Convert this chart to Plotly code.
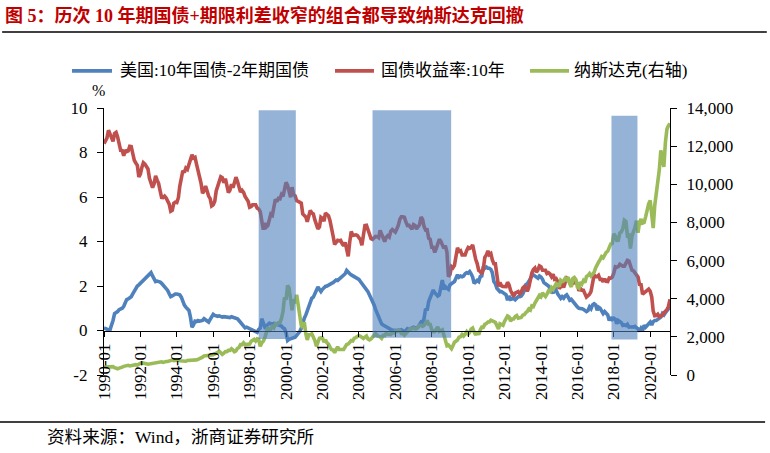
import pandas as pd
import plotly.graph_objects as go

# monthly observations, 1990-01 .. 2021-02
start_month = "1990-01-01"

spread_10y_2y = [
    0.12, 0.08, 0.05, 0.03, 0.03, 0.20, 0.45, 0.76, 0.80, 0.85, 0.94, 0.98,  # 1990
    1.00, 1.09, 1.20, 1.39, 1.42, 1.48, 1.52, 1.65, 1.80, 1.94, 2.00, 2.05,  # 1991
    2.12, 2.15, 2.20, 2.27, 2.35, 2.45, 2.52, 2.60, 2.45, 2.30, 2.20, 2.22,  # 1992
    2.20, 2.18, 2.12, 2.05, 1.97, 1.90, 1.80, 1.65, 1.52, 1.55, 1.60, 1.64,  # 1993
    1.64, 1.62, 1.60, 1.50, 1.30, 1.14, 1.05, 0.98, 0.90, 0.60, 0.15, 0.25,  # 1994
    0.42, 0.40, 0.45, 0.42, 0.45, 0.45, 0.53, 0.48, 0.40, 0.38, 0.50, 0.65,  # 1995
    0.73, 0.68, 0.64, 0.64, 0.66, 0.62, 0.60, 0.62, 0.60, 0.60, 0.60, 0.58,  # 1996
    0.62, 0.60, 0.58, 0.55, 0.53, 0.45, 0.38, 0.30, 0.20, 0.12, 0.15, 0.12,  # 1997
    0.10, 0.08, 0.05, 0.02, -0.05, -0.08, 0.05, 0.10, 0.53, 0.30, 0.15, 0.20,  # 1998
    0.30, 0.33, 0.30, 0.28, 0.32, 0.30, 0.30, 0.28, 0.25, 0.20, 0.12, 0.08,  # 1999
    -0.10, -0.45, -0.40, -0.38, -0.36, -0.33, -0.30, -0.22, -0.15, -0.05, 0.10, 0.38,  # 2000
    0.55, 0.70, 0.90, 1.10, 1.30, 1.45, 1.50, 1.65, 1.85, 1.95, 1.85, 1.75,  # 2001
    1.85, 1.95, 1.98, 2.00, 2.05, 2.10, 2.12, 2.15, 2.20, 2.27, 2.25, 2.30,  # 2002
    2.35, 2.42, 2.45, 2.55, 2.70, 2.60, 2.55, 2.50, 2.45, 2.40, 2.39, 2.35,  # 2003
    2.30, 2.20, 2.12, 2.05, 1.95, 1.85, 1.74, 1.60, 1.45, 1.36, 1.15, 0.95,  # 2004
    0.76, 0.60, 0.45, 0.30, 0.25, 0.20, 0.15, 0.12, 0.10, 0.05, 0.02, 0.00,  # 2005
    -0.02, 0.00, 0.02, 0.00, 0.03, 0.00, -0.05, 0.00, 0.08, 0.05, 0.08, 0.10,  # 2006
    0.15, 0.12, 0.10, 0.15, 0.30, 0.38, 0.35, 0.55, 0.98, 0.90, 1.30, 1.50,  # 2007
    1.65, 1.82, 1.70, 1.60, 1.55, 1.60, 1.90, 2.27, 1.85, 1.97, 1.90, 1.85,  # 2008
    2.05, 2.10, 2.15, 2.20, 2.35, 2.50, 2.40, 2.45, 2.42, 2.45, 2.55, 2.60,  # 2009
    2.58, 2.65, 2.55, 2.40, 2.12, 2.20, 2.25, 2.20, 2.42, 2.45, 2.88, 2.80,  # 2010
    2.85, 2.80, 2.80, 2.75, 2.60, 2.20, 2.10, 1.90, 1.80, 1.74, 1.75, 1.70,  # 2011
    1.65, 1.60, 1.36, 1.55, 1.40, 1.40, 1.44, 1.38, 1.48, 1.52, 1.52, 1.55,  # 2012
    1.65, 1.80, 2.05, 2.10, 2.20, 2.35, 2.45, 2.50, 2.45, 2.40, 2.35, 2.45,  # 2013
    2.40, 2.30, 2.15, 2.10, 2.05, 2.00, 1.90, 1.80, 1.67, 1.97, 1.75, 1.65,  # 2014
    1.55, 1.45, 1.52, 1.45, 1.55, 1.60, 1.50, 1.36, 1.40, 1.30, 1.25, 1.15,  # 2015
    1.06, 1.00, 1.00, 0.98, 0.95, 0.91, 0.85, 0.90, 1.06, 0.98, 1.15, 1.20,  # 2016
    1.15, 0.91, 1.05, 1.00, 0.90, 0.76, 0.85, 0.75, 0.70, 0.45, 0.60, 0.50,  # 2017
    0.55, 0.50, 0.30, 0.45, 0.40, 0.35, 0.23, 0.25, 0.22, 0.28, 0.15, 0.18,  # 2018
    0.17, 0.15, 0.18, 0.12, 0.08, -0.03, 0.10, 0.00, 0.23, 0.15, 0.25, 0.30,  # 2019
    0.38, 0.25, 0.40, 0.45, 0.45, 0.50, 0.55, 0.60, 0.76, 0.70, 0.80, 0.90,  # 2020
    1.00, 1.06,  # 2021
]

yield_10y = [
    8.40, 8.55, 8.65, 9.00, 8.85, 8.60, 8.50, 8.85, 8.90, 8.70, 8.35, 8.10,  # 1990
    8.09, 7.85, 8.11, 8.04, 8.07, 8.28, 8.27, 7.90, 7.65, 7.53, 7.42, 6.90,  # 1991
    7.03, 7.34, 7.54, 7.48, 7.39, 7.26, 6.84, 6.59, 6.42, 6.59, 6.95, 6.77,  # 1992
    6.60, 6.26, 5.98, 5.97, 6.04, 5.96, 5.81, 5.68, 5.36, 5.40, 5.72, 5.77,  # 1993
    5.75, 5.97, 6.48, 6.97, 7.18, 7.10, 7.30, 7.24, 7.46, 7.74, 7.90, 7.75,  # 1994
    7.78, 7.47, 7.20, 7.06, 6.63, 6.17, 6.28, 6.49, 6.20, 6.04, 5.93, 5.60,  # 1995
    5.65, 5.81, 6.27, 6.51, 6.74, 6.91, 6.87, 6.64, 6.83, 6.53, 6.20, 6.30,  # 1996
    6.58, 6.42, 6.69, 6.89, 6.71, 6.49, 6.22, 6.30, 6.21, 6.03, 5.88, 5.81,  # 1997
    5.54, 5.57, 5.65, 5.64, 5.65, 5.50, 5.46, 5.34, 4.81, 4.53, 4.83, 4.65,  # 1998
    4.72, 5.00, 5.23, 5.18, 5.54, 5.90, 5.79, 5.94, 5.92, 6.11, 6.03, 6.28,  # 1999
    6.66, 6.52, 6.26, 5.99, 6.44, 6.10, 6.05, 5.83, 5.80, 5.74, 5.72, 5.24,  # 2000
    5.16, 5.10, 4.89, 5.14, 5.39, 5.28, 5.24, 4.97, 4.73, 4.57, 4.65, 5.09,  # 2001
    5.04, 4.91, 5.28, 5.21, 5.16, 4.93, 4.65, 4.26, 3.87, 3.94, 4.05, 4.03,  # 2002
    4.05, 3.90, 3.81, 3.96, 3.57, 3.33, 3.98, 4.45, 4.27, 4.29, 4.30, 4.27,  # 2003
    4.15, 4.08, 3.83, 4.35, 4.72, 4.73, 4.50, 4.28, 4.13, 4.10, 4.19, 4.23,  # 2004
    4.22, 4.17, 4.50, 4.34, 4.14, 4.00, 4.18, 4.26, 4.20, 4.46, 4.54, 4.47,  # 2005
    4.42, 4.57, 4.72, 4.99, 5.11, 5.11, 5.09, 4.88, 4.72, 4.73, 4.60, 4.56,  # 2006
    4.76, 4.72, 4.56, 4.69, 4.75, 5.10, 5.00, 4.67, 4.52, 4.53, 4.15, 4.10,  # 2007
    3.74, 3.74, 3.51, 3.68, 3.88, 4.10, 4.01, 3.89, 3.69, 3.81, 3.53, 2.42,  # 2008
    2.52, 2.87, 2.82, 2.93, 3.29, 3.72, 3.56, 3.59, 3.40, 3.39, 3.40, 3.59,  # 2009
    3.73, 3.69, 3.73, 3.85, 3.42, 3.20, 3.01, 2.70, 2.65, 2.54, 2.76, 3.29,  # 2010
    3.39, 3.58, 3.41, 3.46, 3.17, 3.00, 3.00, 2.30, 1.98, 2.15, 2.01, 1.98,  # 2011
    1.97, 1.97, 2.17, 2.05, 1.80, 1.62, 1.53, 1.68, 1.72, 1.75, 1.65, 1.72,  # 2012
    1.91, 1.98, 1.96, 1.76, 1.93, 2.30, 2.58, 2.74, 2.81, 2.62, 2.72, 2.90,  # 2013
    2.86, 2.71, 2.72, 2.71, 2.56, 2.60, 2.54, 2.42, 2.53, 2.30, 2.33, 2.21,  # 2014
    1.88, 1.98, 2.04, 1.94, 2.20, 2.36, 2.32, 2.17, 2.17, 2.07, 2.26, 2.24,  # 2015
    2.09, 1.78, 1.89, 1.81, 1.81, 1.64, 1.50, 1.56, 1.63, 1.76, 2.14, 2.49,  # 2016
    2.43, 2.42, 2.48, 2.30, 2.30, 2.19, 2.32, 2.21, 2.20, 2.36, 2.35, 2.40,  # 2017
    2.58, 2.86, 2.84, 2.87, 2.98, 2.91, 2.89, 2.89, 3.00, 3.15, 3.12, 2.83,  # 2018
    2.71, 2.68, 2.57, 2.53, 2.40, 2.07, 2.06, 1.63, 1.70, 1.71, 1.81, 1.86,  # 2019
    1.76, 1.50, 0.87, 0.66, 0.67, 0.73, 0.62, 0.65, 0.68, 0.79, 0.87, 0.93,  # 2020
    1.08, 1.40,  # 2021
]

nasdaq = [
    416, 425, 435, 420, 459, 462, 438, 381, 344, 329, 359, 374,  # 1990
    414, 453, 482, 484, 506, 475, 502, 525, 527, 542, 523, 586,  # 1991
    620, 633, 603, 578, 585, 563, 581, 563, 583, 605, 652, 677,  # 1992
    696, 671, 690, 661, 700, 704, 705, 742, 763, 779, 754, 777,  # 1993
    800, 793, 743, 733, 735, 706, 722, 765, 764, 777, 750, 752,  # 1994
    755, 793, 817, 843, 864, 933, 1001, 1020, 1044, 1036, 1059, 1052,  # 1995
    1060, 1100, 1101, 1191, 1243, 1185, 1081, 1142, 1227, 1222, 1293, 1291,  # 1996
    1380, 1310, 1222, 1261, 1400, 1442, 1594, 1587, 1686, 1594, 1601, 1570,  # 1997
    1619, 1771, 1835, 1868, 1779, 1895, 1873, 1499, 1694, 1771, 1950, 2193,  # 1998
    2506, 2288, 2461, 2543, 2471, 2686, 2638, 2739, 2746, 2966, 3336, 4069,  # 1999
    3940, 4697, 4573, 3861, 3401, 3966, 3767, 4206, 3673, 3370, 2598, 2471,  # 2000
    2773, 2152, 1840, 2116, 2110, 2161, 2027, 1805, 1499, 1690, 1931, 1950,  # 2001
    1934, 1731, 1845, 1688, 1616, 1463, 1328, 1315, 1172, 1330, 1479, 1336,  # 2002
    1321, 1338, 1341, 1464, 1596, 1623, 1735, 1810, 1787, 1932, 1960, 2003,  # 2003
    2066, 2030, 1994, 1920, 1987, 2048, 1887, 1838, 1897, 1975, 2097, 2175,  # 2004
    2062, 2052, 1999, 1922, 2068, 2057, 2185, 2152, 2152, 2120, 2233, 2205,  # 2005
    2306, 2281, 2340, 2323, 2179, 2172, 2091, 2184, 2258, 2367, 2432, 2415,  # 2006
    2464, 2416, 2422, 2525, 2605, 2603, 2546, 2596, 2702, 2859, 2661, 2652,  # 2007
    2390, 2271, 2279, 2413, 2523, 2293, 2326, 2368, 2092, 1721, 1536, 1577,  # 2008
    1476, 1378, 1529, 1717, 1774, 1835, 1979, 2009, 2122, 2045, 2145, 2269,  # 2009
    2147, 2238, 2398, 2461, 2257, 2109, 2255, 2114, 2369, 2507, 2498, 2653,  # 2010
    2700, 2782, 2781, 2874, 2835, 2774, 2756, 2579, 2415, 2684, 2620, 2605,  # 2011
    2814, 2967, 3091, 3046, 2827, 2935, 2940, 3067, 3116, 2977, 3010, 3020,  # 2012
    3142, 3160, 3268, 3329, 3456, 3403, 3626, 3590, 3771, 3920, 4060, 4177,  # 2013
    4104, 4308, 4199, 4115, 4243, 4408, 4370, 4580, 4493, 4631, 4792, 4736,  # 2014
    4635, 4964, 4901, 4941, 5070, 4987, 5128, 4777, 4620, 5054, 5109, 5007,  # 2015
    4614, 4558, 4870, 4775, 4948, 4843, 5162, 5213, 5312, 5189, 5324, 5383,  # 2016
    5615, 5825, 5912, 6048, 6199, 6140, 6348, 6429, 6496, 6728, 6874, 6903,  # 2017
    7411, 7273, 7063, 7066, 7442, 7510, 7672, 8110, 8046, 7306, 7331, 6635,  # 2018
    7282, 7533, 7729, 8095, 7453, 8006, 8175, 7963, 7999, 8292, 8665, 8973,  # 2019
    9151, 8567, 7700, 8890, 9490, 10059, 10745, 11775, 11168, 10912, 12199, 12888,  # 2020
    13071, 13192,  # 2021
]

# shaded periods (start, end)
shade_starts = ["1998-07-01", "2004-10-01", "2017-11-15"]
shade_ends = ["2000-07-15", "2009-01-25", "2019-04-20"]
shade_tops = [9.9, 9.9, 9.65]
shade_bottoms = [-0.38, -0.33, -0.4]

left_ticks = [-2, 0, 2, 4, 6, 8, 10]
left_tick_labels = ["-2", "0", "2", "4", "6", "8", "10"]

series_names = ["美国:10年国债-2年期国债", "国债收益率:10年", "纳斯达克(右轴)"]
series_colors = ["#4F81BD", "#C0504D", "#9BBB59"]

title_text = "图 5：历次 10 年期国债+期限利差收窄的组合都导致纳斯达克回撤"
source_text = "资料来源：Wind，浙商证券研究所"

dates = pd.date_range(start=start_month, periods=len(nasdaq), freq="MS")

serif = "Liberation Serif, Times New Roman, Noto Sans CJK SC"

fig = go.Figure()
fig.add_trace(go.Scatter(x=dates, y=spread_10y_2y, name=series_names[0], mode="lines",
                         line=dict(color=series_colors[0], width=3.6)))
fig.add_trace(go.Scatter(x=dates, y=yield_10y, name=series_names[1], mode="lines",
                         line=dict(color=series_colors[1], width=3.6)))
fig.add_trace(go.Scatter(x=dates, y=nasdaq, name=series_names[2], mode="lines", yaxis="y2",
                         line=dict(color=series_colors[2], width=3.6)))

for x0, x1, y1, y0 in zip(shade_starts, shade_ends, shade_tops, shade_bottoms):
    fig.add_shape(type="rect", xref="x", yref="y", x0=x0, x1=x1, y0=y0, y1=y1,
                  fillcolor="rgba(79,129,189,0.6)", line_width=0, layer="above")

# legend drawn by hand so the 40px line samples match
legend_line_x = [(-0.0565, 0.0141), (0.4081, 0.4770), (0.7527, 0.8216)]
legend_text_x = [0.0247, 0.4859, 0.8269]
legend_y = 1.139
for name, color, (lx0, lx1), tx in zip(series_names, series_colors, legend_line_x, legend_text_x):
    fig.add_shape(type="line", xref="paper", yref="paper", x0=lx0, x1=lx1, y0=legend_y, y1=legend_y,
                  line=dict(color=color, width=3.6))
    fig.add_annotation(text=name, xref="paper", yref="paper", x=tx, y=legend_y,
                       xanchor="left", yanchor="middle", showarrow=False,
                       font=dict(family=serif, size=17, color="black"))

# header / footer rules
fig.add_shape(type="line", xref="paper", yref="paper", x0=-0.180, x1=1.171, y0=1.2846, y1=1.2846,
              line=dict(color="black", width=1.3))
fig.add_shape(type="line", xref="paper", yref="paper", x0=-0.184, x1=1.168, y0=-0.176, y1=-0.176,
              line=dict(color="black", width=1.3))

fig.add_annotation(text=title_text, xref="paper", yref="paper", x=-0.1784, y=1.348,
                   xanchor="left", yanchor="middle", showarrow=False,
                   font=dict(family=serif, size=18, color="#C00000", weight="bold"))
fig.add_annotation(text=source_text, xref="paper", yref="paper", x=-0.1042, y=-0.232,
                   xanchor="left", yanchor="middle", showarrow=False,
                   font=dict(family=serif, size=17.6, color="black"))
fig.add_annotation(text="%", xref="paper", yref="paper", x=-0.0106, y=1.064,
                   xanchor="center", yanchor="middle", showarrow=False,
                   font=dict(family=serif, size=16, color="black"))

fig.update_layout(
    width=770, height=453,
    margin=dict(l=104, r=100, t=108, b=78),
    paper_bgcolor="white", plot_bgcolor="white",
    font=dict(family=serif, size=16, color="black"),
    showlegend=False,
    xaxis=dict(
        type="date", range=["1990-01-01", "2021-02-01"],
        tick0="1990-01-01", dtick="M24", tickformat="%Y-%m", tickangle=-90,
        anchor="free", position=2 / 12,
        showline=True, linecolor="black", linewidth=1.3,
        ticks="outside", ticklen=5, tickcolor="black",
        showgrid=False, zeroline=False,
        tickfont=dict(family=serif, size=17),
    ),
    yaxis=dict(
        range=[-2, 10], tickvals=left_ticks, ticktext=left_tick_labels,
        showline=True, linecolor="black", linewidth=1.3,
        ticks="outside", ticklen=6, tickcolor="black", ticklabelstandoff=6,
        showgrid=False, zeroline=False,
        tickfont=dict(family=serif, size=17),
    ),
    yaxis2=dict(
        range=[0, 14000], dtick=2000, tickformat=",", overlaying="y", side="right",
        showline=True, linecolor="black", linewidth=1.3,
        ticks="outside", ticklen=6, tickcolor="black", ticklabelstandoff=6,
        showgrid=False, zeroline=False,
        tickfont=dict(family=serif, size=17),
    ),
)

# page body margin off so the figure sits at the window's top-left corner
fig.write_html("out.html", config={"displayModeBar": False},
               post_script="document.body.style.margin='0';")
